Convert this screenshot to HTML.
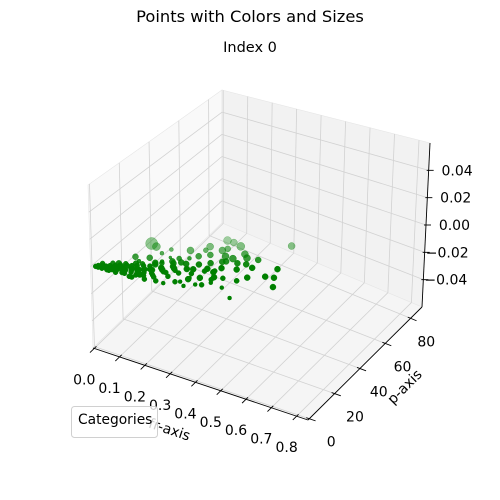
<!DOCTYPE html>
<html><head><meta charset="utf-8"><style>
html,body{margin:0;padding:0;background:#fff;}
svg{display:block;font-family:"DejaVu Sans","Liberation Sans",sans-serif;}
</style></head><body>
<svg id="chart" width="500" height="500" viewBox="0 0 500 500" xmlns="http://www.w3.org/2000/svg">
<rect width="500" height="500" fill="#fff"/>
<text x="250" y="22" text-anchor="middle" font-size="16.3" fill="#000">Points with Colors and Sizes</text>
<text x="250" y="52" text-anchor="middle" font-size="14.5" fill="#000">Index 0</text>
<g id="panes"></g><g id="grid"></g><g id="axes"></g><g id="points"></g><g id="labels"></g>
<text transform="translate(168,434) rotate(18.5)" text-anchor="middle" font-size="14">fr-axis</text>
<text transform="translate(408,390) rotate(-45)" text-anchor="middle" font-size="14">p-axis</text>
<g>
<rect x="71.5" y="406.5" width="86" height="31" rx="3" fill="#fff" fill-opacity="0.8" stroke="#d0d0d0"/>
<text x="78" y="424" font-size="13.8">Categories</text>
</g>
</svg>
<script>
const xTicks=[0,0.1,0.2,0.3,0.4,0.5,0.6,0.7,0.8];
const xTickLabels=["0.0","0.1","0.2","0.3","0.4","0.5","0.6","0.7","0.8"];
const yTicks=[0,20,40,60,80];
const yTickLabels=["0","20","40","60","80"];
const zTicks=[-0.04,-0.02,0,0.02,0.04];
const zTickLabels=["\u22120.04","\u22120.02","0.00","0.02","0.04"];
const frValues=[0.01,0.015,0.02,0.025,0.03,0.035,0.04,0.045,0.05,0.055,0.06,0.065,0.07,0.075,0.08,0.085,0.09,0.095,0.1,0.105,0.11,0.115,0.12,0.125,0.13,0.135,0.14,0.145,0.15,0.155,0.16,0.165,0.17,0.175,0.18,0.185,0.19,0.195,0.2,0.21,0.22,0.23,0.24,0.25,0.26,0.27,0.28,0.29,0.3,0.31,0.32,0.33,0.34,0.35,0.36,0.37,0.38,0.39,0.39,0.40,0.42,0.43,0.45,0.46,0.48,0.48,0.50,0.52,0.55,0.61,0.52,0.095,0.12,0.31,0.336,0.37,0.28,0.33,0.175,0.235,0.28,0.31,0.39,0.38,0.41,0.37,0.315,0.33,0.43,0.48,0.5,0.155,0.21,0.23,0.24,0.31,0.35,0.38,0.25,0.22,0.174,0.094,0.068,0.063,0.2,0.26,0.36,0.41,0.44,0.47,0.27,0.34,0.4,0.56,0.58,0.16,0.14,0.28,0.34,0.02,0.03,0.05,0.06,0.08,0.09,0.11,0.12,0.13,0.15,0.17,0.18,0.2,0.22,0.24,0.26,0.12,0.14,0.19,0.23];
const pValues=[0,1,0,2,1,0,2,1,3,0,2,4,1,3,5,2,0,4,6,2,3,7,1,5,8,3,6,0,9,4,2,7,10,5,12,3,8,14,6,11,4,16,9,13,7,18,11,15,5,20,13,9,23,17,12,26,19,8,22,15,28,33,29,10,17,28,21,5,25,20,49,24,23,40,40,39,33,33,24,27,25,28,30,27,11,7,6,10,16,17,21,0,5,9,14,16,19,18,18,17,13,13,6,0,19,22,30,35,24,34,2,4,13,32,26,20,15,30,35,3,2,5,1,4,7,1,9,4,6,3,8,1,10,2,12,11,10,15,20];
const zValues=frValues.map(()=>0);
const sizeValues=[2.5,2.5,2.5,2.5,2.5,2.5,2.5,2.5,2.5,2.5,2.5,2.5,2.5,2.5,3,2.5,2.5,2.5,3,2.5,3,2.5,2.5,3,2.5,2.5,3,2.5,2.5,3,2.5,3,2.5,2.5,3,2.5,3,2.5,2.5,3,2.5,3,2.5,3,2.5,3,2.5,3,2.5,3,2.5,3,3,2.5,3,3,2.5,2.5,3,3,3,3.5,3,2,2.5,3,3,2,3,3,3.5,6,4,4,3.5,4,3.5,3.5,2,3.5,3,3,3.5,3,2,2,2,2,2.5,2.5,2.5,2.5,2.5,2.5,3,3,3,3,3,3,3,3,3,2.5,1.5,2,3.5,3.5,3,3,2,2,2.5,3,3,2,3,2.5,3,2.5,2.5,2.5,2.5,3,2.5,2.5,3,2.5,2.5,3,2.5,2.5,3,2.5,2.5,2,2.5,2,2.5];

const NS="http://www.w3.org/2000/svg";
const xmin=-0.005,xmax=0.845,ymin=-1,ymax=89,zmin=-0.06,zmax=0.06;
const B=[93,348],A=[222,223],C=[422,307],D=[308,420];
const Bt=[88,185],At=[222,90],Ct=[430,143],Dt=[296,238];
function bil(p00,p10,p01,p11,u,v){return [(1-u)*(1-v)*p00[0]+u*(1-v)*p10[0]+(1-u)*v*p01[0]+u*v*p11[0],(1-u)*(1-v)*p00[1]+u*(1-v)*p10[1]+(1-u)*v*p01[1]+u*v*p11[1]];}
function proj(x,y,z){const u=(x-xmin)/(xmax-xmin),v=(y-ymin)/(ymax-ymin),w=(z-zmin)/(zmax-zmin);
 const f=bil(B,D,A,C,u,v),t=bil(Bt,Dt,At,Ct,u,v);return [f[0]+w*(t[0]-f[0]),f[1]+w*(t[1]-f[1])];}
function mk(tag,attrs,parent){const e=document.createElementNS(NS,tag);for(const k in attrs)e.setAttribute(k,attrs[k]);parent.appendChild(e);return e;}
const gP=document.getElementById('panes'),gG=document.getElementById('grid'),gA=document.getElementById('axes'),gPts=document.getElementById('points'),gL=document.getElementById('labels');
function poly(pts,fill,name){const e=mk('polygon',{points:pts.map(p=>p.join(',')).join(' '),fill:fill,stroke:'#e6e6e6','stroke-width':0.6},gP);
 
 }
poly([B,A,At,Bt],'#f9f9f9','left-pane');
poly([A,C,Ct,At],'#f2f2f2','back-pane');
poly([B,D,C,A],'#f5f5f5','floor-pane');
function line(p,q,stroke,w,parent,name){const e=mk('line',{x1:p[0],y1:p[1],x2:q[0],y2:q[1],stroke:stroke,'stroke-width':w},parent);
 
 return e;}
const gc='#d2d2d2';
xTicks.forEach(x=>{line(proj(x,ymin,zmin),proj(x,ymax,zmin),gc,0.8,gG,'x-gridline');line(proj(x,ymax,zmin),proj(x,ymax,zmax),gc,0.8,gG,'x-gridline');});
yTicks.forEach(y=>{line(proj(xmin,y,zmin),proj(xmax,y,zmin),gc,0.8,gG,'y-gridline');line(proj(xmin,y,zmin),proj(xmin,y,zmax),gc,0.8,gG,'y-gridline');});
zTicks.forEach(z=>{line(proj(xmin,ymin,z),proj(xmin,ymax,z),gc,0.8,gG,'z-gridline');line(proj(xmin,ymax,z),proj(xmax,ymax,z),gc,0.8,gG,'z-gridline');});
line(proj(xmin,ymin,zmin),proj(xmax,ymin,zmin),'#000',0.9,gA,'x-axis-line');
line(proj(xmax,ymin,zmin),proj(xmax,ymax,zmin),'#000',0.9,gA,'y-axis-line');
line(proj(xmax,ymax,zmin),proj(xmax,ymax,zmax),'#000',0.9,gA,'z-axis-line');
xTicks.forEach((x,i)=>{const p=proj(x,ymin,zmin),q=proj(x,ymin-3,zmin),r=proj(x,ymin+1.5,zmin);
 line(r,q,'#000',0.9,gA,'x-tick');
 const t=mk('text',{x:p[0]-10,y:p[1]+36,'text-anchor':'middle','font-size':14},gL);t.textContent=xTickLabels[i];
 
 });
yTicks.forEach((y,i)=>{const p=proj(xmax,y,zmin),q=proj(xmax+0.025,y,zmin),r=proj(xmax-0.012,y,zmin);
 line(r,q,'#000',0.9,gA,'y-tick');
 const v=(y-ymin)/(ymax-ymin);
 const t=mk('text',{x:p[0]+22-7*v,y:p[1]+28,'text-anchor':'middle','font-size':14},gL);t.textContent=yTickLabels[i];
 
 });
zTicks.forEach((z,i)=>{const p=proj(xmax,ymax,z);
 line([p[0]-2,p[1]],[p[0]+5,p[1]],'#000',0.9,gA,'z-tick');
 const t=mk('text',{x:p[0]+44,y:p[1]+5,'text-anchor':'end','font-size':14},gL);t.textContent=zTickLabels[i];
 
 });
const idx=frValues.map((_,i)=>i);
function depth(i){return 0.5*(frValues[i]-xmin)/(xmax-xmin)-0.866*(pValues[i]-ymin)/(ymax-ymin);}
idx.sort((a,b)=>depth(a)-depth(b));
idx.forEach(i=>{const p=proj(frValues[i],pValues[i],zValues[i]);const d=depth(i);
 const a=Math.max(0.35,Math.min(1,1+d*3.2));
 const c=mk('circle',{cx:p[0].toFixed(2),cy:p[1].toFixed(2),r:sizeValues[i],fill:'#008000','fill-opacity':a.toFixed(2),stroke:'#008000','stroke-opacity':a.toFixed(2),'stroke-width':0.5},gPts);
 
 });
</script>
</body></html>
